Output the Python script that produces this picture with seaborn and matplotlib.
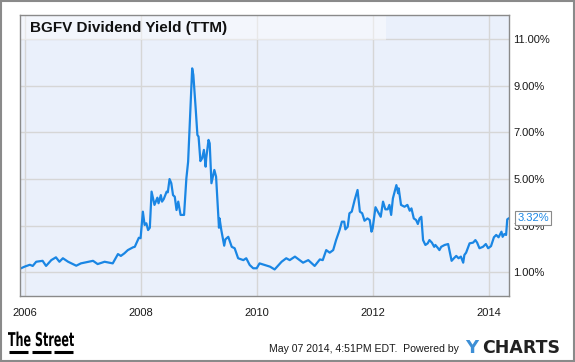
import numpy as np
import pandas as pd
import matplotlib
matplotlib.use("Agg")
import matplotlib.pyplot as plt
import matplotlib.dates as mdates
from matplotlib.patches import Rectangle, PathPatch
from matplotlib.textpath import TextPath
from matplotlib.font_manager import FontProperties
from matplotlib.transforms import Affine2D
import seaborn as sns

# decimal year / dividend yield (%)
years = [2005.90, 2005.99, 2006.08, 2006.13, 2006.19, 2006.30, 2006.36, 2006.45, 2006.53, 2006.59,
         2006.65, 2006.74, 2006.88, 2006.96, 2007.17, 2007.25, 2007.37, 2007.51, 2007.60, 2007.65,
         2007.71, 2007.77, 2007.86, 2007.89, 2007.96, 2007.99, 2008.03, 2008.06, 2008.09, 2008.12,
         2008.15, 2008.18, 2008.23, 2008.28, 2008.30, 2008.34, 2008.36, 2008.39, 2008.44, 2008.46,
         2008.49, 2008.52, 2008.55, 2008.58, 2008.61, 2008.64, 2008.68, 2008.74, 2008.78, 2008.81,
         2008.88, 2008.90, 2008.94, 2008.97, 2008.99, 2009.02, 2009.05, 2009.08, 2009.11, 2009.12,
         2009.16, 2009.18, 2009.21, 2009.26, 2009.29, 2009.34, 2009.35, 2009.38, 2009.43, 2009.45,
         2009.50, 2009.56, 2009.61, 2009.67, 2009.76, 2009.81, 2009.87, 2009.93, 2009.99, 2010.04,
         2010.13, 2010.22, 2010.30, 2010.42, 2010.50, 2010.56, 2010.65, 2010.73, 2010.79, 2010.88,
         2010.99, 2011.08, 2011.13, 2011.19, 2011.25, 2011.31, 2011.36, 2011.42, 2011.46, 2011.50,
         2011.52, 2011.56, 2011.59, 2011.63, 2011.68, 2011.73, 2011.77, 2011.81, 2011.85, 2011.90,
         2011.94, 2011.97, 2011.99, 2012.04, 2012.08, 2012.13, 2012.17, 2012.21, 2012.25, 2012.28,
         2012.31, 2012.34, 2012.40, 2012.43, 2012.44, 2012.48, 2012.54, 2012.59, 2012.63, 2012.66,
         2012.70, 2012.74, 2012.77, 2012.80, 2012.83, 2012.86, 2012.90, 2012.94, 2012.97, 2013.01,
         2013.05, 2013.07, 2013.11, 2013.14, 2013.17, 2013.23, 2013.29, 2013.35, 2013.39, 2013.43,
         2013.47, 2013.51, 2013.55, 2013.57, 2013.60, 2013.66, 2013.72, 2013.76, 2013.79, 2013.83,
         2013.89, 2013.94, 2013.98, 2014.03, 2014.08, 2014.12, 2014.16, 2014.21, 2014.23, 2014.26,
         2014.29, 2014.31, 2014.34]
yields = [1.14, 1.24, 1.32, 1.27, 1.45, 1.49, 1.27, 1.52, 1.64, 1.45,
          1.60, 1.45, 1.28, 1.38, 1.49, 1.35, 1.45, 1.38, 1.78, 1.70,
          1.81, 1.95, 2.07, 2.09, 2.48, 2.46, 3.60, 3.03, 3.10, 2.81,
          2.91, 4.46, 3.89, 4.20, 3.96, 4.31, 4.03, 4.14, 4.46, 4.43,
          5.00, 4.82, 4.31, 4.24, 3.67, 4.03, 3.46, 3.46, 5.03, 5.74,
          9.75, 9.47, 8.04, 6.89, 6.82, 5.77, 5.89, 6.25, 5.53, 5.89,
          6.68, 6.53, 4.82, 5.39, 5.10, 2.91, 3.31, 2.81, 2.14, 2.41,
          2.52, 2.09, 2.03, 1.60, 1.52, 1.60, 1.31, 1.17, 1.17, 1.38,
          1.31, 1.24, 1.12, 1.45, 1.60, 1.52, 1.67, 1.52, 1.41, 1.52,
          1.27, 1.55, 1.52, 1.95, 1.84, 1.95, 2.38, 2.81, 3.17, 3.17,
          2.84, 2.95, 3.53, 3.60, 4.10, 4.53, 3.60, 3.53, 3.21, 3.31,
          3.24, 2.74, 2.88, 3.79, 3.60, 3.38, 4.03, 3.70, 3.70, 3.89,
          3.46, 4.17, 4.74, 4.39, 4.60, 3.89, 3.81, 3.89, 3.64, 3.74,
          3.31, 3.24, 3.07, 3.31, 3.38, 2.38, 2.17, 2.24, 2.38, 2.27,
          2.09, 2.17, 2.05, 1.95, 2.09, 2.17, 2.21, 1.49, 1.60, 1.70,
          1.60, 1.67, 1.41, 1.74, 1.84, 2.24, 2.27, 2.38, 2.27, 2.03,
          2.09, 2.21, 2.03, 2.12, 2.50, 2.60, 2.50, 2.74, 2.52, 2.64,
          2.60, 3.27, 3.32]
ytick_vals = [1, 3, 5, 7, 9, 11]
xtick_years = [2006, 2008, 2010, 2012, 2014]
title = "BGFV Dividend Yield (TTM)"


def to_date(y):
    y = np.asarray(y, dtype=float)
    base = pd.to_datetime(np.floor(y).astype(int).astype(str), format="%Y")
    return base + pd.to_timedelta((y - np.floor(y)) * 365.25, unit="D")


df = pd.DataFrame({"date": to_date(years), "yield": yields})

line_color = "#1a86e4"
sns.set_style("white", {"axes.facecolor": "#eaf0fb", "axes.edgecolor": "#8a8a8a",
                        "grid.color": "#d6d6d6"})
plt.rcParams["font.family"] = ["Liberation Sans", "DejaVu Sans"]

W, H = 575, 362
fig = plt.figure(figsize=(W / 100, H / 100), dpi=100)
ax = fig.add_axes([20 / W, 1 - 296 / H, 489 / W, 281 / H])

sns.lineplot(data=df, x="date", y="yield", ax=ax, color=line_color, linewidth=1.6)

ax.set_xlim(to_date([2005.91])[0], to_date([2014.34])[0])
ax.set_ylim(-0.02, 12.04)
ax.set_yticks(ytick_vals)
ax.set_yticklabels([f"{v:.2f}%" for v in ytick_vals])
ax.set_xticks(to_date(xtick_years))
ax.xaxis.set_major_formatter(mdates.DateFormatter("%Y"))
ax.yaxis.tick_right()
ax.grid(True, linewidth=1.0)
ax.set_axisbelow(True)
ax.tick_params(axis="y", length=0, pad=3, labelsize=8, labelcolor="#1a1a1a")
ax.tick_params(axis="x", length=0, pad=9, labelsize=8, labelcolor="#1a1a1a")
ax.set_xlabel("")
ax.set_ylabel("")
for s in ax.spines.values():
    s.set_visible(True)
    s.set_linewidth(1.0)

# title band
ax.add_patch(Rectangle((0, 1 - 25 / 281), 366 / 489, 25 / 281, transform=ax.transAxes,
                       facecolor="white", alpha=0.45, edgecolor="none", zorder=1))
ax.text(10 / 489, 1 - 13 / 281, title, transform=ax.transAxes, fontsize=11,
        fontweight="bold", color="#111111", va="center", ha="left", zorder=5)

# last value callout
ax.annotate(f"{yields[-1]:.2f}%", xy=(df["date"].iloc[-1], yields[-1]),
            xytext=(6, 0), textcoords="offset points", va="center", ha="left",
            fontsize=8, color=line_color, annotation_clip=False, zorder=6,
            bbox=dict(boxstyle="square,pad=0.2", facecolor="white", edgecolor="#8a8a8a",
                      linewidth=0.8))

# footer: condensed "The Street" logo drawn from a squeezed text path
px = Affine2D().scale(1 / W, 1 / H) + fig.transFigure
tp = TextPath((0, 0), "The Street", size=19,
              prop=FontProperties(family="DejaVu Sans", weight="bold"))
ext = tp.get_extents()
sx = 66 / ext.width
logo = Affine2D().translate(-ext.x0, 0).scale(sx, 1).translate(8, H - 346)
fig.add_artist(PathPatch(logo.transform_path(tp), facecolor="black", edgecolor="none",
                         transform=px))
for x0 in (9, 32, 54):
    fig.add_artist(plt.Line2D([x0, x0 + 19], [H - 352] * 2, color="black", linewidth=2.2,
                              solid_capstyle="butt", transform=px))

fig.text(269 / W, 1 - 349 / H, "May 07 2014, 4:51PM EDT.  Powered by", fontsize=7.6,
         color="#1a1a1a", va="center", ha="left")
fig.text(465 / W, 1 - 348 / H, "Y", fontsize=13, fontweight="bold", color="#3d8fd6",
         va="center", ha="left", family=["DejaVu Sans"])
fig.text(482 / W, 1 - 348 / H, "CHARTS", fontsize=12.5, fontweight="bold",
         color="#222222", va="center", ha="left", family=["DejaVu Sans"])

fig.add_artist(Rectangle((0.001, 0.002), 0.997, 0.996, transform=fig.transFigure,
                         fill=False, edgecolor="#8a8a8a", linewidth=1.5))

fig.savefig("out.png", dpi=100)
